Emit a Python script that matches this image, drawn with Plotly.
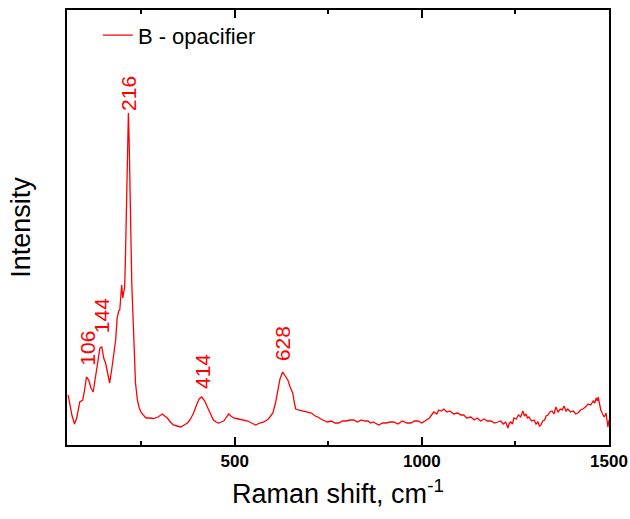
import numpy as np
import plotly.graph_objects as go

# Raman spectrum (B - opacifier)
raman_shift = [55, 60, 65, 72, 78, 86, 94, 99, 104, 110, 116, 122, 128, 134, 140, 145, 150, 155,
               160, 166, 172, 178, 182, 186, 190, 193, 196, 198, 201, 203, 206, 208, 211, 214, 216,
               218, 221, 225, 230, 235, 240, 245, 251, 257, 263, 273, 283, 295, 302, 307, 313, 320,
               328, 336, 346, 356, 365, 374, 382, 390, 398, 405, 412, 420, 427, 435, 443, 450, 457,
               464, 471, 478, 484, 490, 497, 510, 522, 535, 545, 556, 567, 578, 590, 602, 609, 615,
               621, 628, 635, 642, 648, 655, 659, 663, 670, 680, 695, 705, 715, 722, 730, 738, 748,
               758, 768, 778, 788, 798, 808, 818, 828, 838, 847, 856, 863, 870, 878, 885, 895, 905,
               915, 925, 936, 948, 960, 971, 980, 990, 1000, 1011, 1020, 1032, 1040, 1045, 1052,
               1059, 1067, 1075, 1085, 1096, 1104, 1112, 1120, 1131, 1140, 1148, 1157, 1166, 1175,
               1185, 1194, 1203, 1210, 1218, 1224, 1230, 1234, 1238, 1242, 1246, 1252, 1258, 1264,
               1270, 1274, 1278, 1282, 1286, 1293, 1300, 1305, 1310, 1314, 1318, 1323, 1328, 1332,
               1337, 1342, 1348, 1353, 1358, 1364, 1370, 1375, 1380, 1385, 1390, 1397, 1405, 1411,
               1417, 1424, 1430, 1437, 1444, 1451, 1458, 1462, 1466, 1469, 1471, 1474, 1478, 1483,
               1487, 1490, 1492, 1495, 1497, 1500]
intensity = [50, 40, 30, 21, 27, 43, 45, 55, 68, 65, 57, 53, 67, 85, 97, 98, 87, 82,
             73, 62, 77, 93, 105, 127, 134, 135, 149, 160, 147, 151, 158, 185, 245, 305, 332,
             305, 245, 162, 112, 62, 45, 37, 32, 29, 27, 27, 26.5, 28, 30, 31, 29, 27,
             23, 20, 19, 18, 20, 22, 26, 32, 40, 46, 48, 44, 38, 31, 25, 23, 22,
             23, 24, 28, 31, 29, 27, 26, 25, 24, 22, 20, 22, 23, 26, 32, 42, 55,
             66, 73, 69, 65, 58, 52, 43, 36, 35, 34, 33, 32, 29, 28, 26, 25, 23,
             24, 22, 22, 24, 24, 25, 25, 23, 25, 24, 24, 22, 23, 21, 20, 22, 22,
             23, 23, 21, 24, 22, 22, 24, 24, 22, 25, 27, 33, 31, 35, 34,
             36, 33, 34, 31, 32, 30, 30, 27, 28, 25, 27, 24, 26, 24,
             24, 22, 23, 24, 21, 23, 17, 22, 23, 21, 27, 26, 30, 28,
             34, 29, 31, 27, 28, 24, 25, 21, 23, 19, 20, 24, 25, 29,
             30, 33, 34, 31, 38, 33, 36, 35, 39, 34, 36, 33, 34, 31,
             32, 35, 36, 38, 41, 40, 44, 42, 47, 44, 48, 43, 35, 31,
             28, 30, 32, 24, 18, 25]

peak_labels = ["106", "144", "216", "414", "628"]
peak_positions = [106, 144, 216, 414, 628]
label_gaps = [10, 12, 0, 7, 9]  # pixel gap between peak and label (style)

RED = "#FF0000"
FONT = "Arial, Liberation Sans, sans-serif"

fig = go.Figure()
fig.add_trace(go.Scatter(
    x=raman_shift, y=intensity, mode="lines", name="B - opacifier",
    line=dict(color=RED, width=1.3),
))

for lab, pos, gap in zip(peak_labels, peak_positions, label_gaps):
    fig.add_annotation(
        x=pos, y=float(np.interp(pos, raman_shift, intensity)),
        text=lab, showarrow=False, textangle=-90,
        xanchor="center", yanchor="bottom", yshift=gap,
        font=dict(family=FONT, size=21, color=RED),
    )

fig.update_layout(
    width=630, height=519,
    margin=dict(l=67, r=21, t=10, b=74),
    paper_bgcolor="white", plot_bgcolor="white",
    font=dict(family=FONT, color="black"),
    showlegend=True,
    legend=dict(
        x=0.057, y=0.99, xanchor="left", yanchor="top",
        bgcolor="rgba(0,0,0,0)", font=dict(family=FONT, size=22),
    ),
)

fig.update_xaxes(
    range=[52, 1500], automargin=False,
    title=dict(text="Raman shift, cm<sup>-1</sup>", font=dict(family=FONT, size=27), standoff=14),
    tickvals=[500, 1000, 1500], ticktext=["500", "1000", "1500"],
    tickfont=dict(family=FONT, size=17, weight="bold"),
    ticks="inside", ticklen=8, tickwidth=2, tickcolor="black",
    minor=dict(tickvals=[250, 750, 1250], ticks="inside", ticklen=4, tickwidth=2, tickcolor="black"),
    showline=True, linecolor="black", linewidth=2, mirror="allticks",
    showgrid=False, zeroline=False,
)
fig.update_yaxes(
    range=[0, 435], automargin=False,
    title=dict(text="Intensity", font=dict(family=FONT, size=27), standoff=27),
    showticklabels=False, ticks="",
    showline=True, linecolor="black", linewidth=2, mirror=True,
    showgrid=False, zeroline=False,
)

fig.write_html("out.html")
